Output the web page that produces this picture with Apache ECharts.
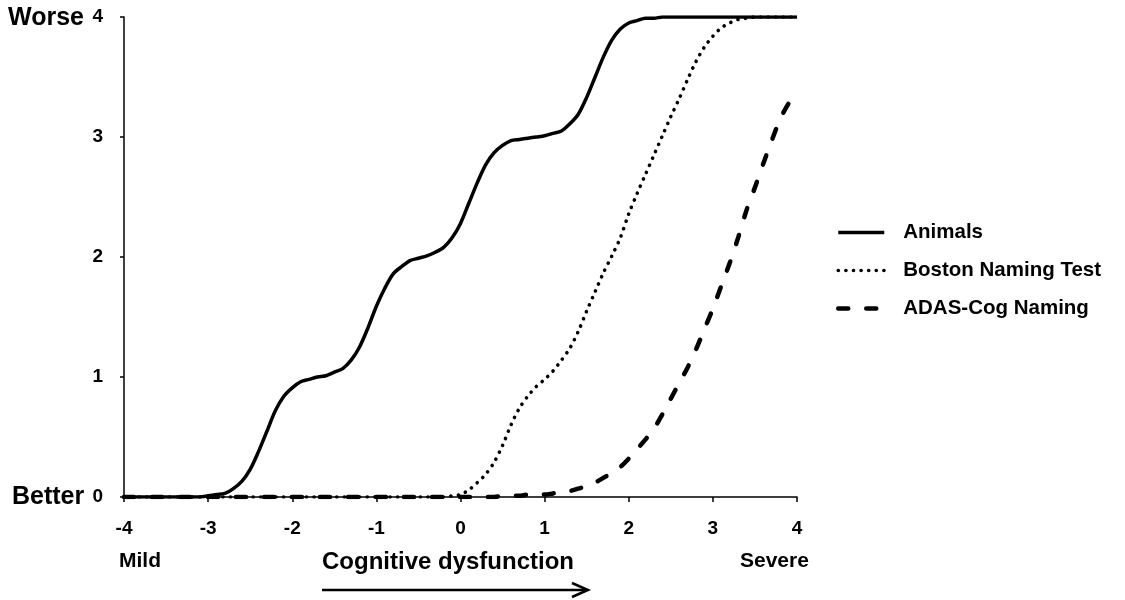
<!DOCTYPE html>
<html>
<head>
<meta charset="utf-8">
<script src="https://cdn.jsdelivr.net/npm/echarts@6/dist/echarts.min.js"></script>
<style>
  html, body { margin: 0; padding: 0; background: #fff; }
  #chart { width: 1125px; height: 600px; }
</style>
</head>
<body>
<div id="chart"></div>
<script>
// Latent trait (cognitive dysfunction) grid
const theta = [
  -4.0,-3.9,-3.8,-3.7,-3.6,-3.5,-3.4,-3.3,-3.2,-3.1,
  -3.0,-2.9,-2.8,-2.7,-2.6,-2.5,-2.4,-2.3,-2.2,-2.1,
  -2.0,-1.9,-1.8,-1.7,-1.6,-1.5,-1.4,-1.3,-1.2,-1.1,
  -1.0,-0.9,-0.8,-0.7,-0.6,-0.5,-0.4,-0.3,-0.2,-0.1,
   0.0, 0.1, 0.2, 0.3, 0.4, 0.5, 0.6, 0.7, 0.8, 0.9,
   1.0, 1.1, 1.2, 1.3, 1.4, 1.5, 1.6, 1.7, 1.8, 1.9,
   2.0, 2.1, 2.2, 2.3, 2.4, 2.5, 2.6, 2.7, 2.8, 2.9,
   3.0, 3.1, 3.2, 3.3, 3.4, 3.5, 3.6, 3.7, 3.8, 3.9,
   4.0
];

// Expected item score along the trait
const animals = [
  0, 0, 0, 0, 0, 0, 0, 0, 0, 0,
  0.01, 0.02, 0.03, 0.07, 0.13, 0.23, 0.38, 0.55, 0.72, 0.84,
  0.91, 0.96, 0.98, 1.00, 1.01, 1.04, 1.07, 1.14, 1.25, 1.41,
  1.59, 1.74, 1.86, 1.92, 1.97, 1.99, 2.01, 2.04, 2.08, 2.16,
  2.28, 2.45, 2.62, 2.77, 2.87, 2.93, 2.97, 2.98, 2.99, 3.00,
  3.01, 3.03, 3.05, 3.11, 3.19, 3.33, 3.50, 3.67, 3.81, 3.90,
  3.95, 3.97, 3.99, 3.99, 4.00, 4.00, 4.00, 4.00, 4.00, 4.00,
  4.00, 4.00, 4.00, 4.00, 4.00, 4.00, 4.00, 4.00, 4.00, 4.00,
  4.00
];

const boston = [
  0, 0, 0, 0, 0, 0, 0, 0, 0, 0,
  0, 0, 0, 0, 0, 0, 0, 0, 0, 0,
  0, 0, 0, 0, 0, 0, 0, 0, 0, 0,
  0, 0, 0, 0, 0, 0, 0, 0, 0, 0.01,
  0.02, 0.06, 0.12, 0.19, 0.29, 0.43, 0.60, 0.74, 0.84, 0.92,
  0.98, 1.05, 1.14, 1.24, 1.38, 1.55, 1.71, 1.87, 2.01, 2.16,
  2.36, 2.53, 2.69, 2.85, 3.01, 3.17, 3.32, 3.48, 3.63, 3.75,
  3.84, 3.91, 3.95, 3.98, 3.99, 4.00, 4.00, 4.00, 4.00, 4.00,
  4.00
];

const adasCog = [
  0, 0, 0, 0, 0, 0, 0, 0, 0, 0,
  0, 0, 0, 0, 0, 0, 0, 0, 0, 0,
  0, 0, 0, 0, 0, 0, 0, 0, 0, 0,
  0, 0, 0, 0, 0, 0, 0, 0, 0, 0,
  0, 0, 0, 0, 0, 0.01, 0.01, 0.01, 0.02, 0.02,
  0.02, 0.03, 0.04, 0.05, 0.07, 0.09, 0.12, 0.16, 0.20, 0.25,
  0.32, 0.40, 0.48, 0.57, 0.69, 0.82, 0.95, 1.08, 1.23, 1.40,
  1.57, 1.76, 1.95, 2.16, 2.39, 2.58, 2.78, 2.97, 3.15, 3.28,
  3.38
];

const seriesNames = ['Animals', 'Boston Naming Test', 'ADAS-Cog Naming'];
const xTicks = [-4, -3, -2, -1, 0, 1, 2, 3, 4];
const yTicks = [0, 1, 2, 3, 4];

const FONT = '"Liberation Sans", Arial, Helvetica, sans-serif';

function pairs(ys) {
  return theta.map((t, i) => [t, ys[i]]);
}

const chart = echarts.init(document.getElementById('chart'), null, { renderer: 'canvas' });

const axisColor = '#000';

chart.setOption({
  animation: false,
  backgroundColor: '#fff',
  grid: { left: 124, right: 328, top: 17, bottom: 103, containLabel: false },
  xAxis: {
    type: 'value',
    min: xTicks[0],
    max: xTicks[xTicks.length - 1],
    interval: 1,
    splitLine: { show: false },
    axisLine: { show: true, onZero: false, lineStyle: { color: axisColor, width: 1.5 } },
    axisTick: { show: true, length: 5, lineStyle: { color: axisColor, width: 1.5 } },
    axisLabel: {
      color: '#000', fontFamily: FONT, fontWeight: 'bold', fontSize: 19, margin: 22,
      formatter: v => String(v)
    }
  },
  yAxis: {
    type: 'value',
    min: yTicks[0],
    max: yTicks[yTicks.length - 1],
    interval: 1,
    splitLine: { show: false },
    axisLine: { show: true, onZero: false, lineStyle: { color: axisColor, width: 1.5 } },
    axisTick: { show: true, length: 4, lineStyle: { color: axisColor, width: 1.5 } },
    axisLabel: {
      color: '#000', fontFamily: FONT, fontWeight: 'bold', fontSize: 19, margin: 21
    }
  },
  legend: {
    orient: 'vertical',
    left: 836,
    top: 222,
    padding: 0,
    itemWidth: 46,
    itemHeight: 20,
    itemGap: 17,
    data: seriesNames,
    itemStyle: { opacity: 0 },
    lineStyle: { width: 'inherit' },
    textStyle: {
      color: '#000', fontFamily: FONT, fontWeight: 'bold', fontSize: 20.5,
      padding: [0, 0, 0, 14]
    }
  },
  series: [
    {
      name: seriesNames[0],
      type: 'line',
      data: pairs(animals),
      symbol: 'none',
      smooth: 0.3,
      lineStyle: { color: '#000', width: 3.5, type: 'solid' },
      itemStyle: { color: '#000' },
      z: 4
    },
    {
      name: seriesNames[1],
      type: 'line',
      data: pairs(boston),
      symbol: 'none',
      smooth: 0.3,
      lineStyle: { color: '#000', width: 3.6, type: [0.1, 7.5], cap: 'round' },
      itemStyle: { color: '#000' },
      z: 3
    },
    {
      name: seriesNames[2],
      type: 'line',
      data: pairs(adasCog),
      symbol: 'none',
      smooth: 0.3,
      lineStyle: { color: '#000', width: 4.5, type: [10, 18], cap: 'round' },
      itemStyle: { color: '#000' },
      z: 3
    }
  ],
  graphic: [
    {
      type: 'text', left: 8, top: 6,
      style: { text: 'Worse', fill: '#000', font: 'bold 25px ' + FONT }
    },
    {
      type: 'text', left: 12, top: 485,
      style: { text: 'Better', fill: '#000', font: 'bold 25px ' + FONT }
    },
    {
      type: 'text', left: 119, top: 551,
      style: { text: 'Mild', fill: '#000', font: 'bold 21px ' + FONT }
    },
    {
      type: 'text', left: 740, top: 551,
      style: { text: 'Severe', fill: '#000', font: 'bold 21px ' + FONT }
    },
    {
      type: 'text', left: 322, top: 550,
      style: { text: 'Cognitive dysfunction', fill: '#000', font: 'bold 24px ' + FONT }
    },
    {
      type: 'line',
      shape: { x1: 322, y1: 590, x2: 587, y2: 590 },
      style: { stroke: '#000', lineWidth: 2.5 }
    },
    {
      type: 'polyline',
      shape: { points: [[572, 583], [588, 590], [572, 597]] },
      style: { stroke: '#000', lineWidth: 2.5, fill: null }
    }
  ]
});
</script>
</body>
</html>
